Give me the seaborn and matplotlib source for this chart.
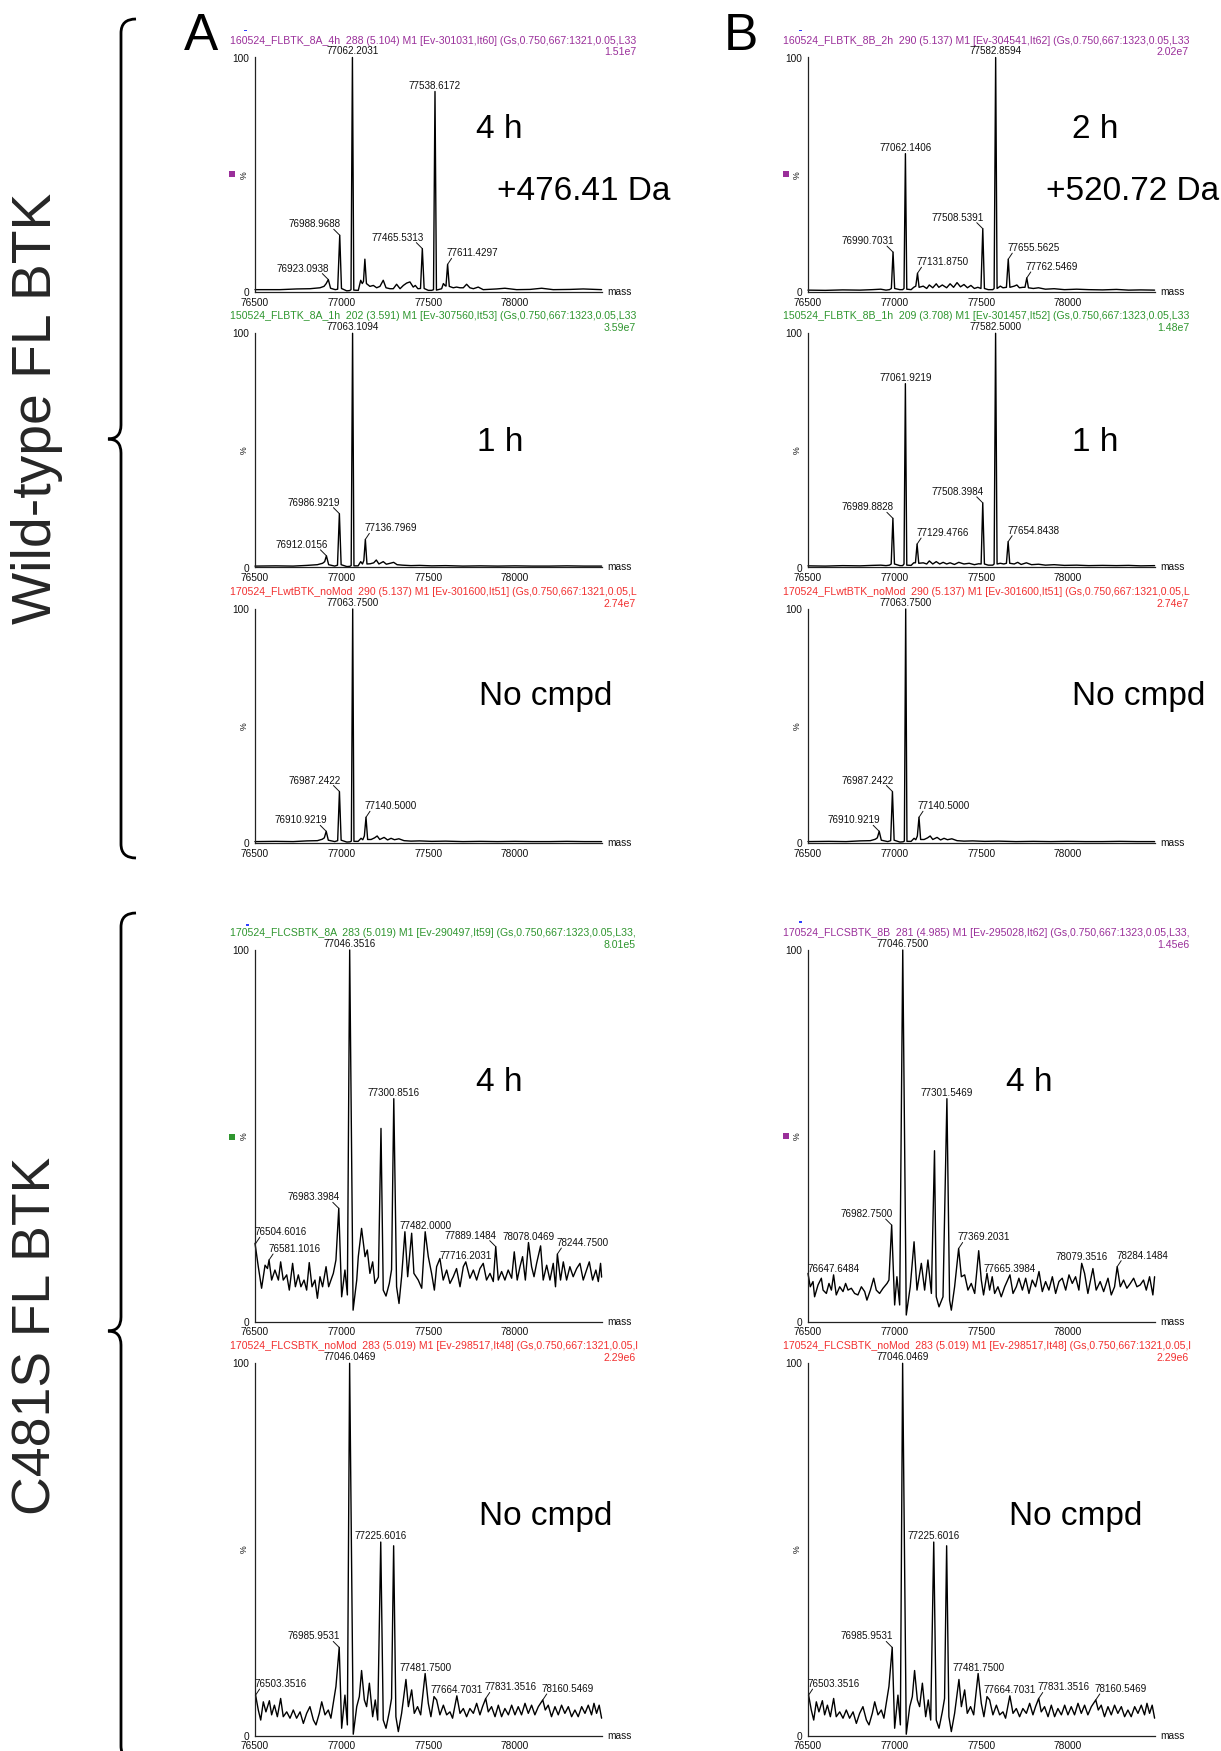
import numpy as np
import pandas as pd
import matplotlib
matplotlib.use("Agg")
import matplotlib.pyplot as plt
import seaborn as sns
from matplotlib.path import Path
from matplotlib.patches import PathPatch, Rectangle

# ------------------------------------------------------------------ data
# Panel A1 : wild-type, compound 8A, 4 h
A1_mass = [76500, 76644, 76740, 76817, 76875, 76898, 76910, 76923.09, 76936, 76963,
           76977, 76988.97, 76999, 77029, 77046, 77054, 77062.20, 77070, 77096, 77110,
           77119, 77126, 77134, 77143, 77163, 77183, 77202, 77221, 77240, 77256,
           77279, 77298, 77317, 77337, 77356, 77375, 77394, 77413, 77425, 77440,
           77455, 77465.53, 77476, 77500, 77520, 77530, 77538.62, 77547, 77577, 77587,
           77596, 77602, 77611.43, 77621, 77644, 77663, 77683, 77702, 77721, 77740,
           77760, 77788, 77817, 77894, 77942, 78010, 78087, 78154, 78221, 78317,
           78394, 78500]
A1_int = [1.0, 1.0, 1.3, 1.4, 1.8, 2.4, 3.5, 5.3, 1.6, 1.0,
          1.2, 24.2, 1.5, 0.5, 0.6, 1.0, 100, 0.8, 0.7, 5.0,
          3.6, 4.5, 14.0, 3.6, 2.4, 2.8, 1.8, 2.4, 5.0, 1.8,
          1.4, 1.4, 3.3, 1.4, 2.8, 3.8, 4.3, 2.1, 2.8, 1.4,
          1.5, 18.5, 1.5, 0.7, 0.7, 1.0, 85.5, 0.8, 1.4, 3.6,
          2.8, 2.5, 11.8, 2.4, 1.8, 2.1, 1.8, 1.8, 3.3, 1.8,
          1.4, 2.1, 1.0, 1.3, 1.6, 1.0, 1.1, 1.6, 1.0, 1.1,
          1.3, 1.0]

# Panel A2 : wild-type, compound 8A, 1 h
A2_mass = [76500, 76620, 76720, 76800, 76860, 76890, 76902, 76912.02, 76925, 76960,
           76976, 76986.92, 76997, 77030, 77047, 77055, 77063.11, 77071, 77095, 77110,
           77120, 77128, 77136.80, 77146, 77165, 77185, 77200, 77215, 77240, 77258,
           77280, 77300, 77320, 77350, 77400, 77450, 77520, 77600, 77700, 77800,
           77900, 78000, 78100, 78200, 78300, 78400, 78500]
A2_int = [0.6, 0.7, 0.6, 0.9, 1.2, 1.8, 2.5, 5.0, 1.2, 0.6,
          1.0, 23.0, 1.2, 0.4, 0.5, 0.8, 100, 0.7, 0.7, 2.5,
          1.5, 3.0, 12.0, 1.5, 1.6, 2.0, 3.2, 1.5, 2.5, 1.4,
          1.8, 2.2, 1.2, 1.0, 0.8, 0.9, 0.7, 0.8, 0.6, 0.7,
          0.6, 0.7, 0.6, 0.6, 0.7, 0.6, 0.6]

# Panel A3 / B3 : wild-type, no compound
A3_mass = [76500, 76620, 76720, 76800, 76860, 76888, 76900, 76910.92, 76923, 76960,
           76977, 76987.24, 76997, 77030, 77048, 77056, 77063.75, 77071, 77095, 77112,
           77122, 77131, 77140.50, 77150, 77170, 77190, 77205, 77220, 77245, 77265,
           77285, 77305, 77330, 77360, 77400, 77450, 77520, 77600, 77700, 77800,
           77900, 78000, 78100, 78200, 78300, 78400, 78500]
A3_int = [0.6, 0.7, 0.6, 0.9, 1.0, 1.6, 2.2, 5.0, 1.2, 0.6,
          1.0, 22.0, 1.2, 0.4, 0.5, 0.8, 100, 0.7, 0.7, 2.0,
          1.4, 3.0, 11.0, 1.5, 1.5, 2.2, 3.0, 1.5, 2.4, 1.3,
          2.0, 1.4, 1.8, 1.0, 0.8, 0.9, 0.7, 0.8, 0.6, 0.7,
          0.6, 0.7, 0.6, 0.6, 0.7, 0.6, 0.6]

# Panel B1 : wild-type, compound 8B, 2 h
B1_mass = [76500, 76600, 76700, 76800, 76870, 76920, 76950, 76970, 76981, 76990.70,
           77000, 77030, 77046, 77054, 77062.14, 77070, 77095, 77110, 77122, 77131.88,
           77141, 77165, 77185, 77200, 77220, 77240, 77255, 77275, 77300, 77320,
           77340, 77360, 77380, 77400, 77420, 77440, 77460, 77480, 77498, 77508.54,
           77518, 77540, 77566, 77574, 77582.86, 77591, 77610, 77625, 77645, 77655.56,
           77665, 77690, 77705, 77720, 77740, 77752, 77762.55, 77772, 77800, 77830,
           77870, 77920, 77980, 78050, 78120, 78200, 78280, 78350, 78420, 78500]
B1_int = [0.8, 0.7, 0.9, 0.8, 1.0, 1.2, 0.8, 1.0, 1.5, 17.0,
          1.5, 1.0, 1.0, 1.5, 59.0, 1.2, 1.0, 2.0, 2.5, 8.0,
          2.0, 2.5, 1.5, 3.0, 1.8, 3.5, 2.0, 3.0, 1.8, 3.5,
          2.0, 4.0, 2.2, 3.2, 1.8, 2.8, 1.5, 2.0, 1.5, 27.0,
          1.5, 1.0, 1.0, 1.5, 100, 1.5, 2.5, 1.8, 2.0, 14.0,
          2.0, 2.5, 3.0, 1.8, 2.0, 2.0, 6.0, 1.8, 1.5, 1.8,
          1.2, 1.4, 1.0, 1.2, 1.0, 0.9, 1.1, 0.8, 0.9, 0.8]

# Panel B2 : wild-type, compound 8B, 1 h
B2_mass = [76500, 76600, 76700, 76800, 76870, 76920, 76950, 76970, 76980, 76989.88,
           76999, 77030, 77046, 77054, 77061.92, 77070, 77095, 77110, 77120, 77129.48,
           77139, 77165, 77185, 77200, 77220, 77240, 77260, 77280, 77300, 77320,
           77345, 77370, 77400, 77430, 77460, 77485, 77499, 77508.40, 77518, 77540,
           77566, 77574, 77582.50, 77591, 77610, 77630, 77645, 77654.84, 77664, 77690,
           77710, 77730, 77760, 77790, 77830, 77870, 77920, 77980, 78050, 78120,
           78200, 78280, 78350, 78420, 78500]
B2_int = [0.7, 0.6, 0.8, 0.7, 0.9, 1.0, 0.8, 1.0, 1.5, 21.0,
          1.5, 0.8, 0.8, 1.5, 78.5, 1.0, 0.9, 2.0, 2.0, 10.0,
          1.8, 2.0, 1.5, 2.8, 1.5, 2.5, 1.5, 2.2, 1.5, 2.0,
          1.3, 2.2, 1.5, 1.8, 1.2, 1.6, 1.5, 27.6, 1.5, 1.0,
          1.0, 1.5, 100, 1.5, 1.8, 1.5, 1.8, 11.0, 1.8, 1.5,
          2.2, 1.3, 2.0, 1.2, 1.4, 1.0, 1.2, 0.9, 1.0, 0.8,
          0.9, 0.8, 0.9, 0.7, 0.8]

# Panel A4 : C481S, compound 8A, 4 h
A4_mass = [76500, 76519, 76538, 76558, 76572, 76581.10, 76596, 76615, 76635, 76648,
           76663, 76683, 76698, 76717, 76733, 76750, 76765, 76783, 76798, 76813,
           76829, 76846, 76860, 76875, 76890, 76910, 76925, 76942, 76952, 76967,
           76983.40, 77000, 77019, 77033, 77046.35, 77066, 77087, 77096, 77115, 77135,
           77148, 77163, 77179, 77192, 77212, 77227, 77240, 77256, 77275, 77288,
           77300.85, 77317, 77331, 77346, 77365, 77381, 77404, 77417, 77442, 77462,
           77482.00, 77500, 77519, 77535, 77548, 77567, 77586, 77606, 77625, 77644,
           77663, 77683, 77702, 77716.20, 77740, 77760, 77779, 77798, 77817, 77836,
           77856, 77875, 77889.15, 77904, 77923, 77942, 77961, 77981, 77996, 78013,
           78029, 78044, 78060, 78078.05, 78096, 78110, 78125, 78148, 78163, 78183,
           78202, 78221, 78234, 78244.75, 78263, 78279, 78298, 78317, 78336, 78356,
           78375, 78394, 78413, 78429, 78448, 78467, 78481, 78494, 78500]
A4_int = [21.1, 14.8, 9.0, 15.2, 14.3, 16.6, 11.2, 13.9, 11.2, 16.1,
          11.2, 12.6, 8.5, 15.7, 9.4, 12.6, 9.4, 11.2, 8.5, 15.9,
          9.4, 11.2, 6.3, 12.1, 9.4, 14.8, 9.4, 11.7, 13.0, 16.6,
          30.5, 6.7, 13.9, 7.2, 100, 3.1, 11.2, 17.5, 25.1, 17.5,
          19.3, 13.0, 16.1, 10.3, 12.0, 52.0, 8.5, 6.9, 10.3, 14.0,
          60.0, 9.4, 4.9, 12.1, 24.2, 12.1, 23.8, 13.0, 11.2, 9.0,
          24.2, 17.5, 13.0, 8.5, 14.8, 17.0, 11.2, 13.9, 10.3, 12.1,
          14.3, 9.4, 14.8, 16.1, 11.7, 13.9, 11.2, 14.3, 15.7, 11.2,
          13.0, 10.8, 20.2, 11.2, 13.5, 11.2, 13.9, 11.7, 18.8, 11.2,
          14.8, 17.5, 11.2, 21.3, 14.8, 12.1, 15.7, 20.4, 11.2, 15.2,
          11.2, 15.7, 9.4, 18.2, 11.2, 16.1, 11.2, 14.8, 12.1, 14.3,
          15.7, 11.2, 13.9, 16.1, 11.2, 13.9, 10.8, 15.7, 12.0]

# Panel B4 : C481S, compound 8B, 4 h
B4_mass = [76500, 76513, 76529, 76538, 76558, 76577, 76587, 76606, 76621, 76635,
           76647.65, 76663, 76683, 76702, 76717, 76731, 76750, 76769, 76788, 76808,
           76827, 76840, 76860, 76879, 76894, 76913, 76933, 76956, 76967, 76982.75,
           77000, 77013, 77029, 77046.75, 77067, 77090, 77112, 77129, 77154, 77173,
           77192, 77212, 77230, 77240, 77256, 77279, 77301.55, 77317, 77327, 77346,
           77369.20, 77385, 77404, 77423, 77442, 77462, 77485, 77500, 77513, 77533,
           77548, 77563, 77577, 77596, 77615, 77635, 77665.40, 77683, 77702, 77717,
           77737, 77756, 77775, 77794, 77813, 77833, 77852, 77871, 77890, 77910,
           77929, 77948, 77967, 77987, 78006, 78025, 78044, 78063, 78079.35, 78096,
           78115, 78144, 78163, 78186, 78206, 78231, 78250, 78269, 78284.15, 78302,
           78321, 78340, 78360, 78379, 78398, 78417, 78436, 78452, 78471, 78490,
           78500]
B4_int = [13.0, 9.4, 10.8, 6.7, 9.9, 11.7, 8.5, 7.6, 10.3, 8.5,
          12.6, 7.2, 9.4, 8.1, 10.3, 8.5, 9.0, 7.6, 7.2, 9.4,
          8.1, 5.8, 8.5, 11.7, 8.5, 7.6, 9.0, 10.3, 11.2, 26.0,
          4.5, 12.1, 4.5, 100, 1.8, 9.4, 21.5, 8.5, 15.7, 8.5,
          16.6, 7.6, 46.0, 6.7, 4.0, 6.7, 60.0, 5.8, 3.1, 9.4,
          19.7, 12.1, 12.6, 8.5, 10.3, 7.6, 19.1, 11.2, 7.2, 13.0,
          8.5, 12.1, 7.6, 9.4, 6.7, 9.4, 12.6, 7.6, 9.4, 11.7,
          8.5, 11.7, 7.6, 11.2, 9.4, 13.5, 8.1, 10.8, 8.5, 12.1,
          7.6, 10.8, 11.7, 8.5, 12.6, 10.3, 12.1, 8.5, 15.7, 13.0,
          7.6, 14.3, 8.5, 10.8, 8.1, 11.7, 7.2, 9.4, 14.8, 9.4,
          11.2, 9.0, 10.3, 11.7, 9.4, 9.9, 11.2, 8.5, 12.1, 7.2,
          12.1]

# Panel A5 / B5 : C481S, no compound
A5_mass = [76503.35, 76519, 76533, 76548, 76563, 76583, 76596, 76612, 76629, 76648,
           76663, 76683, 76702, 76721, 76740, 76760, 76779, 76798, 76817, 76837,
           76852, 76871, 76885, 76904, 76923, 76938, 76956, 76967, 76985.95, 77000,
           77019, 77033, 77046.05, 77067, 77087, 77102, 77115, 77131, 77144, 77160,
           77179, 77194, 77208, 77225.60, 77240, 77256, 77275, 77288, 77300, 77313,
           77327, 77346, 77371, 77385, 77404, 77419, 77438, 77456, 77481.75, 77500,
           77515, 77533, 77548, 77567, 77587, 77606, 77625, 77640, 77664.70, 77683,
           77702, 77721, 77740, 77760, 77779, 77798, 77813, 77831.35, 77846, 77865,
           77885, 77904, 77923, 77942, 77962, 77981, 78000, 78019, 78038, 78058,
           78077, 78096, 78115, 78135, 78160.55, 78175, 78192, 78211, 78231, 78250,
           78269, 78288, 78308, 78327, 78346, 78365, 78385, 78404, 78423, 78442,
           78456, 78471, 78486, 78500]
A5_int = [10.9, 6.9, 4.2, 9.1, 6.4, 9.4, 5.6, 8.2, 5.1, 10.0,
          5.1, 6.4, 4.7, 6.9, 4.7, 6.4, 3.3, 6.0, 7.8, 4.2,
          2.9, 6.0, 9.1, 5.6, 6.9, 4.7, 10.0, 13.2, 23.7, 2.0,
          10.9, 2.9, 100, 0.4, 7.8, 10.5, 17.5, 9.6, 7.8, 14.1,
          5.1, 9.6, 4.2, 52.0, 4.2, 2.0, 6.4, 10.0, 51.0, 5.1,
          1.1, 6.0, 15.1, 7.8, 12.3, 6.0, 7.8, 5.6, 16.7, 8.7,
          5.1, 10.5, 9.6, 5.6, 8.2, 5.6, 6.4, 4.7, 10.7, 6.0,
          7.3, 5.1, 7.3, 6.0, 8.7, 5.6, 7.8, 10.0, 6.4, 7.8,
          5.1, 8.2, 5.1, 7.3, 5.6, 8.2, 5.6, 7.8, 5.6, 8.7,
          6.0, 8.2, 5.6, 7.8, 9.6, 6.9, 8.2, 5.1, 7.8, 5.6,
          8.2, 6.0, 7.8, 5.1, 6.9, 5.1, 7.8, 6.0, 8.2, 5.6,
          8.7, 6.0, 8.2, 4.7]

# peak labels
A1_labels = [76923.0938, 76988.9688, 77062.2031, 77465.5313, 77538.6172, 77611.4297]
A2_labels = [76912.0156, 76986.9219, 77063.1094, 77136.7969]
A3_labels = [76910.9219, 76987.2422, 77063.7500, 77140.5000]
B1_labels = [76990.7031, 77062.1406, 77131.8750, 77508.5391, 77582.8594, 77655.5625, 77762.5469]
B2_labels = [76989.8828, 77061.9219, 77129.4766, 77508.3984, 77582.5000, 77654.8438]
A4_labels = [76504.6016, 76581.1016, 76983.3984, 77046.3516, 77300.8516, 77482.0000,
             77716.2031, 77889.1484, 78078.0469, 78244.7500]
B4_labels = [76647.6484, 76982.7500, 77046.7500, 77301.5469, 77369.2031, 77665.3984,
             78079.3516, 78284.1484]
A5_labels = [76503.3516, 76985.9531, 77046.0469, 77225.6016, 77481.7500, 77664.7031,
             77831.3516, 78160.5469]

# headers
headers = {
    "A1": "160524_FLBTK_8A_4h  288 (5.104) M1 [Ev-301031,It60] (Gs,0.750,667:1321,0.05,L33",
    "A2": "150524_FLBTK_8A_1h  202 (3.591) M1 [Ev-307560,It53] (Gs,0.750,667:1323,0.05,L33",
    "A3": "170524_FLwtBTK_noMod  290 (5.137) M1 [Ev-301600,It51] (Gs,0.750,667:1321,0.05,L",
    "A4": "170524_FLCSBTK_8A  283 (5.019) M1 [Ev-290497,It59] (Gs,0.750,667:1323,0.05,L33,",
    "A5": "170524_FLCSBTK_noMod  283 (5.019) M1 [Ev-298517,It48] (Gs,0.750,667:1321,0.05,l",
    "B1": "160524_FLBTK_8B_2h  290 (5.137) M1 [Ev-304541,It62] (Gs,0.750,667:1323,0.05,L33",
    "B2": "150524_FLBTK_8B_1h  209 (3.708) M1 [Ev-301457,It52] (Gs,0.750,667:1323,0.05,L33",
    "B3": "170524_FLwtBTK_noMod  290 (5.137) M1 [Ev-301600,It51] (Gs,0.750,667:1321,0.05,L",
    "B4": "170524_FLCSBTK_8B  281 (4.985) M1 [Ev-295028,It62] (Gs,0.750,667:1323,0.05,L33,",
    "B5": "170524_FLCSBTK_noMod  283 (5.019) M1 [Ev-298517,It48] (Gs,0.750,667:1321,0.05,l",
}
max_intensity = {"A1": "1.51e7", "A2": "3.59e7", "A3": "2.74e7", "A4": "8.01e5", "A5": "2.29e6",
                 "B1": "2.02e7", "B2": "1.48e7", "B3": "2.74e7", "B4": "1.45e6", "B5": "2.29e6"}
condition = {"A1": "4 h", "A2": "1 h", "A3": "No cmpd", "A4": "4 h", "A5": "No cmpd",
             "B1": "2 h", "B2": "1 h", "B3": "No cmpd", "B4": "4 h", "B5": "No cmpd"}
mass_shift = {"A1": "+476.41 Da", "B1": "+520.72 Da"}
group_labels = ["Wild-type FL BTK", "C481S FL BTK"]

# ------------------------------------------------------------------ style
PURPLE, GREEN, RED = "#9a2f9a", "#2f962f", "#f23030"
header_color = {"A1": PURPLE, "A2": GREEN, "A3": RED, "A4": GREEN, "A5": RED,
                "B1": PURPLE, "B2": GREEN, "B3": RED, "B4": PURPLE, "B5": RED}

panels = {
    "A1": (A1_mass, A1_int, A1_labels, ["l", "l", "c", "l", "c", "r"]),
    "A2": (A2_mass, A2_int, A2_labels, ["l", "l", "c", "r"]),
    "A3": (A3_mass, A3_int, A3_labels, ["l", "l", "c", "r"]),
    "A4": (A4_mass, A4_int, A4_labels, ["r", "r", "l", "c", "c", "c", "c", "l", "c", "r"]),
    "A5": (A5_mass, A5_int, A5_labels, ["r", "l", "c", "c", "c", "c", "r", "r"]),
    "B1": (B1_mass, B1_int, B1_labels, ["l", "c", "r", "l", "c", "r", "r"]),
    "B2": (B2_mass, B2_int, B2_labels, ["l", "c", "r", "l", "c", "r"]),
    "B3": (A3_mass, A3_int, A3_labels, ["l", "l", "c", "r"]),
    "B4": (B4_mass, B4_int, B4_labels, ["c", "l", "c", "c", "r", "c", "c", "r"]),
    "B5": (A5_mass, A5_int, A5_labels, ["r", "l", "c", "c", "c", "c", "r", "r"]),
}

sns.set_style("white")
plt.rcParams["font.family"] = ["Liberation Sans", "DejaVu Sans"]

W, H, DPI = 1221, 1751, 100
fig = plt.figure(figsize=(W / DPI, H / DPI), dpi=DPI)
fig.patch.set_facecolor("white")

ov = fig.add_axes([0, 0, 1, 1])
ov.set_xlim(0, W)
ov.set_ylim(H, 0)
ov.axis("off")

col_left = {"A": 255, "B": 808}
row_tb = {"1": (57.5, 292), "2": (333.3, 567.5), "3": (609, 843),
          "4": (950, 1321.7), "5": (1363.3, 1735.7)}
AX_W = 346.6
SMALL = 7.3
HEAD = 7.55
LAB = 7.1

cond_pos = {"A1": (499, 129), "A2": (500, 442), "A3": (546, 696), "A4": (499, 1082), "A5": (546, 1516),
            "B1": (1095, 129), "B2": (1095, 442), "B3": (1139, 696), "B4": (1029, 1082), "B5": (1076, 1516)}
shift_pos = {"A1": (584, 191), "B1": (1133, 191)}

for key, (mass, inten, labels, modes) in panels.items():
    left = col_left[key[0]]
    top, bot = row_tb[key[1]]
    ax = fig.add_axes([left / W, 1 - bot / H, AX_W / W, (bot - top) / H])
    df = pd.DataFrame({"mass": mass, "intensity": inten})
    sns.lineplot(data=df, x="mass", y="intensity", ax=ax, color="black", lw=1.0,
                 estimator=None, sort=False, legend=False)
    for ln in ax.lines:
        ln.set_clip_on(False)
    ax.set_xlim(76500, 78500)
    ax.set_ylim(0, 100)
    ax.set_xlabel("")
    ax.set_ylabel("")
    for s in ["top", "right"]:
        ax.spines[s].set_visible(False)
    for s in ["left", "bottom"]:
        ax.spines[s].set_linewidth(0.9)
        ax.spines[s].set_color("#222222")
    ax.set_facecolor("none")
    xt = np.arange(76500, 78501, 125)
    ax.set_xticks(xt)
    ax.set_xticklabels([str(int(v)) if (v % 500 == 0 and v < 78500) else "" for v in xt])
    yt = np.arange(0, 101, 10)
    ax.set_yticks(yt)
    ax.set_yticklabels(["0"] + [""] * 9 + ["100"])
    ax.tick_params(axis="both", direction="out", length=3, width=0.8, color="#222222",
                   labelsize=SMALL, pad=1, labelcolor="#111111")
    ax.annotate("mass", xy=(1, 0), xycoords="axes fraction", xytext=(6, 0),
                textcoords="offset pixels", ha="left", va="center", fontsize=SMALL, color="#111111")
    ax.annotate("%", xy=(0, 0.5), xycoords="axes fraction", xytext=(-11, 0),
                textcoords="offset pixels", ha="center", va="center", fontsize=SMALL - 1,
                rotation=90, color="#111111")

    m_arr = np.array(mass)
    i_arr = np.array(inten)
    for lab, mode in zip(labels, modes):
        near = np.abs(m_arr - lab) <= 6
        h = i_arr[near].max() if near.any() else float(np.interp(lab, m_arr, i_arr))
        txt = f"{lab:.4f}"
        if mode == "c":
            ax.annotate(txt, xy=(lab, h), xytext=(0, 3), textcoords="offset pixels",
                        ha="center", va="baseline", fontsize=LAB, color="#111111",
                        annotation_clip=False)
        elif mode == "l":
            ax.annotate(txt, xy=(lab, h), xytext=(1, 8), textcoords="offset pixels",
                        ha="right", va="baseline", fontsize=LAB, color="#111111",
                        annotation_clip=False)
            ax.annotate("", xy=(lab, h), xytext=(-6, 6), textcoords="offset pixels",
                        arrowprops=dict(arrowstyle="-", lw=0.7, color="#111111",
                                        shrinkA=0, shrinkB=0), annotation_clip=False)
        else:
            ax.annotate(txt, xy=(lab, h), xytext=(-1, 8), textcoords="offset pixels",
                        ha="left", va="baseline", fontsize=LAB, color="#111111",
                        annotation_clip=False)
            ax.annotate("", xy=(lab, h), xytext=(4, 6), textcoords="offset pixels",
                        arrowprops=dict(arrowstyle="-", lw=0.7, color="#111111",
                                        shrinkA=0, shrinkB=0), annotation_clip=False)

    # header lines
    ov.text(left - 25, top - 17, headers[key], ha="left", va="center", fontsize=HEAD,
            color=header_color[key])
    ov.text(left + 381, top - 5.5, max_intensity[key], ha="right", va="center", fontsize=HEAD,
            color=header_color[key])
    # condition labels
    cx, cy = cond_pos[key]
    ov.text(cx, cy, condition[key], ha="center", va="center", fontsize=24, color="black")
    if key in shift_pos:
        sx, sy = shift_pos[key]
        ov.text(sx, sy, mass_shift[key], ha="center", va="center", fontsize=24, color="black")

# small trace markers
for (x, y, c) in [(232, 174, PURPLE), (786, 174, PURPLE), (232, 1137, GREEN), (786, 1136, PURPLE)]:
    ov.add_patch(Rectangle((x - 3, y - 3), 6, 6, color=c, lw=0))
for (x, y) in [(245, 31), (800, 31), (247, 925), (800, 922)]:
    ov.add_patch(Rectangle((x - 1, y - 1), 2.5, 1.5, color="#3040ff", lw=0))

# panel letters
ov.text(201, 36, "A", ha="center", va="center", fontsize=37, color="black")
ov.text(741, 36, "B", ha="center", va="center", fontsize=37, color="black")

# group labels
ov.text(37, 408, group_labels[0], rotation=90, ha="center", va="center", fontsize=39.8)
ov.text(37, 1336, group_labels[1], rotation=90, ha="center", va="center", fontsize=38.5)


def brace(top, bot, mid, x=121, tip=108, hook=136):
    verts = [(hook, top), (x, top), (x, top + 14),
             (x, mid - 14),
             (x, mid), (tip, mid),
             (x, mid), (x, mid + 14),
             (x, bot - 14),
             (x, bot), (hook, bot)]
    codes = [Path.MOVETO, Path.CURVE3, Path.CURVE3,
             Path.LINETO,
             Path.CURVE3, Path.CURVE3,
             Path.CURVE3, Path.CURVE3,
             Path.LINETO,
             Path.CURVE3, Path.CURVE3]
    ov.add_patch(PathPatch(Path(verts, codes), fill=False, lw=2.0, color="black",
                           capstyle="butt"))


brace(19, 858, 439)
brace(913, 1760, 1331)

fig.savefig("out.png", dpi=DPI, facecolor="white")
